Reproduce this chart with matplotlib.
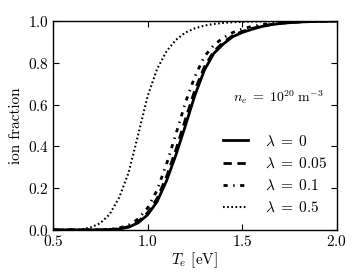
import numpy as np
import matplotlib
matplotlib.use("Agg")
import matplotlib.pyplot as plt

plt.rcParams['font.family'] = 'serif'
plt.rcParams['font.serif'] = ['cmr10']
plt.rcParams['mathtext.fontset'] = 'cm'
plt.rcParams['axes.unicode_minus'] = False
plt.rcParams['axes.formatter.use_mathtext'] = True
plt.rcParams['font.size'] = 11
plt.rcParams['lines.scale_dashes'] = False

# electron temperature grid [eV]
T_e = [0.50, 0.55, 0.60, 0.65, 0.70, 0.75, 0.80, 0.85, 0.90, 0.95,
       1.00, 1.05, 1.10, 1.15, 1.20, 1.25, 1.30, 1.35, 1.40, 1.45,
       1.50, 1.55, 1.60, 1.65, 1.70, 1.75, 1.80, 1.85, 1.90, 1.95, 2.00]

# ion fraction
frac_lam0 = [0.0, 0.0, 0.0, 0.0, 0.0, 0.0, 0.001, 0.004, 0.013, 0.034,
             0.072, 0.135, 0.235, 0.36, 0.50, 0.645, 0.765, 0.845, 0.89, 0.925,
             0.945, 0.96, 0.973, 0.982, 0.988, 0.992, 0.995, 0.997, 0.998, 0.999, 1.0]
frac_lam005 = [0.0, 0.0, 0.0, 0.0, 0.0, 0.0, 0.002, 0.005, 0.016, 0.039,
               0.082, 0.15, 0.255, 0.385, 0.53, 0.67, 0.78, 0.855, 0.898, 0.93,
               0.95, 0.964, 0.975, 0.983, 0.989, 0.993, 0.995, 0.997, 0.998, 0.999, 1.0]
frac_lam01 = [0.0, 0.0, 0.0, 0.0, 0.0, 0.001, 0.003, 0.009, 0.023, 0.052,
              0.105, 0.19, 0.315, 0.46, 0.61, 0.735, 0.83, 0.885, 0.92, 0.945,
              0.962, 0.974, 0.982, 0.988, 0.992, 0.995, 0.997, 0.998, 0.999, 0.999, 1.0]
frac_lam05 = [0.0, 0.0, 0.0, 0.002, 0.012, 0.032, 0.075, 0.155, 0.275, 0.455,
              0.64, 0.77, 0.855, 0.91, 0.945, 0.965, 0.978, 0.986, 0.991, 0.994,
              0.996, 0.997, 0.998, 0.998, 0.999, 0.999, 1.0, 1.0, 1.0, 1.0, 1.0]

fig = plt.figure(figsize=(3.6, 2.8), dpi=100)
ax = fig.add_axes([0.147, 0.179, 0.789, 0.746])

ax.plot(T_e, frac_lam0, color='black', lw=2.0, ls='-', label=r'$\lambda\;=\;0$')
ax.plot(T_e, frac_lam005, color='black', lw=2.0, dashes=(6, 4), label=r'$\lambda\;=\;0.05$')
ax.plot(T_e, frac_lam01, color='black', lw=2.0, dashes=(3, 4, 1, 4), label=r'$\lambda\;=\;0.1$')
ax.plot(T_e, frac_lam05, color='black', lw=1.5, dashes=(1.2, 1.8), label=r'$\lambda\;=\;0.5$')

ax.set_xlim(0.5, 2.0)
ax.set_ylim(0.0, 1.0)
ax.set_xticks([0.5, 1.0, 1.5, 2.0])
ax.set_yticks([0.0, 0.2, 0.4, 0.6, 0.8, 1.0])
ax.tick_params(direction='in', top=True, right=True, length=4, width=0.8,
               labelsize=11, pad=3)
for s in ax.spines.values():
    s.set_linewidth(1.0)

ax.set_xlabel(r'$T_e$ [eV]', labelpad=1, fontsize=11)
ax.set_ylabel('ion fraction', labelpad=3, fontsize=11)

ax.text(0.955, 0.635, r'$n_e\;=\;10^{20}\;\mathrm{m}^{-3}$', transform=ax.transAxes,
        ha='right', va='center', fontsize=10)
ax.legend(loc='upper left', bbox_to_anchor=(0.599, 0.457), frameon=False,
          borderpad=0, borderaxespad=0, handlelength=1.64, handletextpad=1.1,
          labelspacing=0.5, fontsize=11)

fig.savefig('out.png', dpi=100)
